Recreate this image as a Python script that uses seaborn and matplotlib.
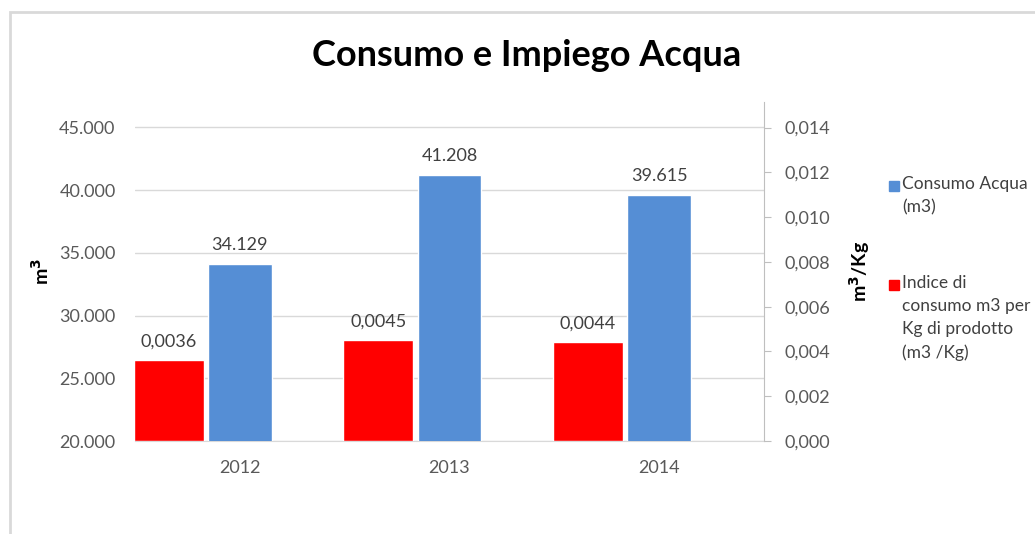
import matplotlib
matplotlib.use("Agg")
import matplotlib.pyplot as plt
import seaborn as sns
import pandas as pd
from matplotlib.ticker import FuncFormatter
from matplotlib.patches import Rectangle

# data
years = [2012, 2013, 2014]
consumo = [34129, 41208, 39615]          # m3
indice = [0.0036, 0.0045, 0.0044]       # m3 / Kg
consumo_labels = ["34.129", "41.208", "39.615"]
indice_labels = ["0,0036", "0,0045", "0,0044"]
legend_labels = ["Consumo Acqua\n(m3)", "Indice di\nconsumo m3 per\nKg di prodotto\n(m3 /Kg)"]

BLUE = "#558ed5"
RED = "#ff0000"
TXT = "#595959"

sns.set_style("white")
plt.rcParams["font.family"] = ["Lato", "DejaVu Sans"]

fig = plt.figure(figsize=(10.35, 5.34), dpi=100)
W, H = 1035, 534
# chart frame like the Excel object border
fig.patches.append(Rectangle((10 / W, -0.1), 1.2, 1 - 12 / H + 0.1, transform=fig.transFigure,
                             fill=False, edgecolor="#d9d9d9", linewidth=2))

ax = fig.add_axes([135 / W, 1 - 441 / H, (764 - 135) / W, (441 - 102) / H])
ax2 = ax.twinx()

df_c = pd.DataFrame({"anno": years, "val": consumo})
df_i = pd.DataFrame({"anno": [y - 0.339 for y in years], "val": indice})

sns.barplot(data=df_c, x="anno", y="val", native_scale=True, width=0.305,
            color=BLUE, saturation=1, ax=ax, zorder=3)
sns.barplot(data=df_i, x="anno", y="val", native_scale=True, width=0.334,
            color=RED, saturation=1, ax=ax2, zorder=3)

ax.set_xlim(years[0] - 0.5, years[-1] + 0.5)
ax.set_ylim(20000, 47030)
ax.set_yticks(range(20000, 45001, 5000))
ax2.set_ylim(0, 0.01514)
ax2.set_yticks([i * 0.002 for i in range(8)])
ax.set_xticks(years)
ax.set_xticklabels([str(y) for y in years])

ax.yaxis.set_major_formatter(FuncFormatter(lambda v, p: f"{int(v):,}".replace(",", ".")))
ax2.yaxis.set_major_formatter(FuncFormatter(lambda v, p: f"{v:.3f}".replace(".", ",")))

ax.grid(axis="y", color="#d9d9d9", linewidth=1, zorder=0)
ax.set_axisbelow(True)
for a in (ax, ax2):
    for s in ("top", "left", "right"):
        a.spines[s].set_visible(False)
    a.spines["bottom"].set_color("#d9d9d9")
ax2.spines["right"].set_visible(True)
ax2.spines["right"].set_color("#bfbfbf")
ax2.spines["bottom"].set_visible(False)

ax.tick_params(axis="y", length=0, labelsize=13, labelcolor=TXT, pad=14)
ax.tick_params(axis="x", length=0, labelsize=13, labelcolor=TXT, pad=14)
ax2.tick_params(axis="y", length=5, color="#bfbfbf", labelsize=13, labelcolor=TXT, pad=10)

ax.set_xlabel("")
ax.set_ylabel("m$^\\mathbf{3}$", fontsize=14, fontweight="bold", color="black", labelpad=5)
ax2.set_ylabel("m$^\\mathbf{3}$/Kg", fontsize=14, fontweight="bold", color="black", labelpad=12)

for c, lab in zip(ax.containers[0], consumo_labels):
    ax.annotate(lab, (c.get_x() + c.get_width() / 2, c.get_height()), xytext=(0, 8),
                textcoords="offset points", ha="center", va="bottom", fontsize=13, color="#404040")
for c, lab in zip(ax2.containers[0], indice_labels):
    ax2.annotate(lab, (c.get_x() + c.get_width() / 2, c.get_height()), xytext=(0, 8),
                 textcoords="offset points", ha="center", va="bottom", fontsize=13, color="#404040")

fig.text(527 / W, 1 - 55 / H, "Consumo e Impiego Acqua", ha="center", va="center",
         fontsize=26, fontweight="bold", color="black")

# legend drawn like Excel: square marker beside the first text line
for color, lab, ytop in zip([BLUE, RED], legend_labels, [186, 285]):
    fig.patches.append(Rectangle((889 / W, 1 - (ytop + 5) / H), 10 / W, 10 / H,
                                 transform=fig.transFigure, color=color))
    fig.text(902 / W, 1 - (ytop - 10) / H, lab, ha="left", va="top", fontsize=12.5,
             color="#404040", linespacing=1.55)

fig.savefig("out.png", dpi=100)
